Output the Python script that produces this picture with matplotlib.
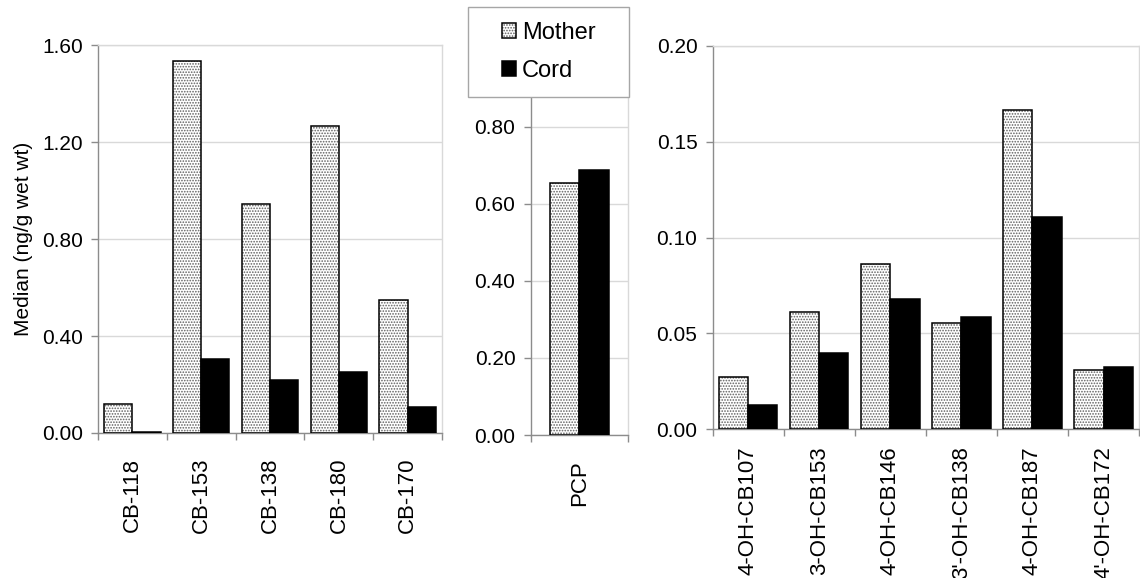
import numpy as np
import matplotlib
matplotlib.use("Agg")
import matplotlib.pyplot as plt
from matplotlib.patches import Rectangle, Patch
from matplotlib.legend_handler import HandlerTuple
from matplotlib.ticker import FixedLocator

plt.rcParams['font.family'] = ['Liberation Sans', 'DejaVu Sans']
plt.rcParams['hatch.linewidth'] = 0.8

# median concentrations (ng/g wet wt)
pcb_names = ['CB-118', 'CB-153', 'CB-138', 'CB-180', 'CB-170']
pcb_mother = [0.118, 1.534, 0.944, 1.266, 0.548]
pcb_cord = [0.005, 0.304, 0.219, 0.252, 0.106]

pcp_names = ['PCP']
pcp_mother = [0.653]
pcp_cord = [0.688]

oh_names = ['4-OH-CB107', '3-OH-CB153', '4-OH-CB146', "3'-OH-CB138", '4-OH-CB187', "4'-OH-CB172"]
oh_mother = [0.0275, 0.0614, 0.0861, 0.0556, 0.1665, 0.0310]
oh_cord = [0.0127, 0.0400, 0.0682, 0.0588, 0.1110, 0.0327]

grid_col = '#d9d9d9'
axis_col = '#8c8c8c'
dot_col = '#606060'

fig = plt.figure(figsize=(11.4, 5.78), dpi=100)


def draw_panel(ax, names, mother, cord, width, ymax, ystep, label_pad):
    x = np.arange(len(names))
    # stippled fill first, black outline on top
    ax.bar(x - width / 2, mother, width, color='white', edgecolor=dot_col,
           hatch='......', linewidth=0, zorder=2)
    ax.bar(x - width / 2, mother, width, fill=False, edgecolor='black',
           linewidth=1.1, zorder=3)
    ax.bar(x + width / 2, cord, width, color='black', edgecolor='black',
           linewidth=1.1, zorder=3)
    ax.set_xlim(-0.5, len(names) - 0.5)
    ax.set_ylim(0, ymax)
    ax.set_yticks(np.arange(0, ymax + ystep / 2, ystep))
    ax.yaxis.set_major_formatter(plt.FormatStrFormatter('%.2f'))
    ax.grid(axis='y', color=grid_col, linewidth=1.0, zorder=0)
    ax.set_axisbelow(True)
    ax.set_xticks(x)
    ax.set_xticklabels(names, rotation=90, fontsize=16)
    ax.xaxis.set_minor_locator(FixedLocator(np.arange(-0.5, len(names), 1.0)))
    ax.tick_params(axis='x', which='major', length=0, pad=label_pad)
    ax.tick_params(axis='x', which='minor', length=5, color=axis_col, width=1)
    ax.tick_params(axis='y', length=5, color=axis_col, width=1, labelsize=15, pad=6)
    for side in ['left', 'bottom']:
        ax.spines[side].set_color(axis_col)
        ax.spines[side].set_linewidth(1.0)
    for side in ['top', 'right']:
        ax.spines[side].set_color(grid_col)
        ax.spines[side].set_linewidth(1.0)


ax1 = fig.add_axes([0.086, 0.2509, 0.3018, 0.671])
draw_panel(ax1, pcb_names, pcb_mother, pcb_cord, 0.41, 1.6, 0.4, 18)
ax1.set_ylabel('Median (ng/g wet wt)', fontsize=15)
ax1.yaxis.set_label_coords(-0.19, 0.5)

ax2 = fig.add_axes([0.4655, 0.2474, 0.0854, 0.6668])
draw_panel(ax2, pcp_names, pcp_mother, pcp_cord, 0.30, 1.0, 0.2, 18)

ax3 = fig.add_axes([0.6252, 0.2573, 0.3740, 0.6632])
draw_panel(ax3, oh_names, oh_mother, oh_cord, 0.41, 0.20, 0.05, 12)

# legend box sits over the top of the PCP panel
fig.patches.append(Rectangle((0.4105, 0.832), 0.1413, 0.1559, transform=fig.transFigure,
                             facecolor='white', edgecolor='#a6a6a6', linewidth=1.0, zorder=4))
m_fill = Patch(facecolor='white', edgecolor=dot_col, hatch='......', linewidth=0)
m_edge = Patch(fill=False, edgecolor='black', linewidth=1.1)
c_patch = Patch(facecolor='black', edgecolor='black', linewidth=1.1)
fig.legend([(m_fill, m_edge), c_patch], ['Mother', 'Cord'],
           handler_map={tuple: HandlerTuple(ndivide=1, pad=0)},
           loc='center', bbox_to_anchor=(0.4812, 0.910), frameon=False,
           fontsize=17, handlelength=0.6, handleheight=0.6, handletextpad=0.25,
           labelspacing=0.7, borderpad=0)

fig.savefig('out.png', dpi=100)
